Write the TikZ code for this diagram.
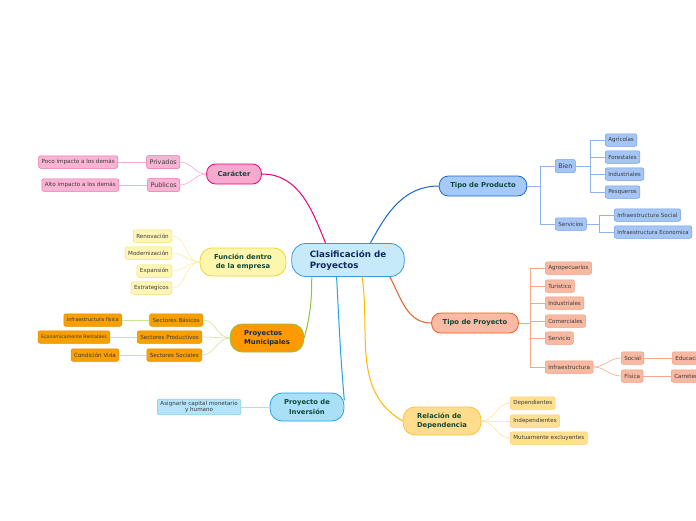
\documentclass[tikz,border=0pt]{standalone}
\usepackage{fontspec}
\setmainfont{DejaVu Sans}
\usepackage{xcolor}
\usepackage{tikz}
\usetikzlibrary{positioning}

\definecolor{cRaiz}{HTML}{C7EAFB}
\definecolor{cRaizB}{HTML}{3B9BD9}
\definecolor{cTexto}{HTML}{12285A}
\definecolor{cVerde}{HTML}{0E4A3A}
\definecolor{cGris}{HTML}{3A3A3A}
\definecolor{cRosa}{HTML}{F9A8CE}
\definecolor{cRosaB}{HTML}{E5007D}
\definecolor{cRosaH}{HTML}{F9B3D3}
\definecolor{cRosaHB}{HTML}{EE6CA9}
\definecolor{cAmar}{HTML}{FFF6AE}
\definecolor{cAmarB}{HTML}{EBD52F}
\definecolor{cAmarH}{HTML}{FFF6B5}
\definecolor{cAmarHB}{HTML}{F2E066}
\definecolor{cAmarL}{HTML}{F8EEA0}
\definecolor{cNar}{HTML}{FF9900}
\definecolor{cNarB}{HTML}{8CC63E}
\definecolor{cNarH}{HTML}{F7A000}
\definecolor{cNarHB}{HTML}{E38B00}
\definecolor{cNarL}{HTML}{C9E39A}
\definecolor{cCel}{HTML}{A9E0F8}
\definecolor{cCelB}{HTML}{1FA3E3}
\definecolor{cCelH}{HTML}{B4E4F9}
\definecolor{cCelHB}{HTML}{78C8EE}
\definecolor{cAzul}{HTML}{A5C9F8}
\definecolor{cAzulB}{HTML}{1766D1}
\definecolor{cAzulH}{HTML}{A5C6F5}
\definecolor{cAzulHB}{HTML}{6E9EE6}
\definecolor{cAzulL}{HTML}{8FB4EE}
\definecolor{cSal}{HTML}{F9BBA3}
\definecolor{cSalB}{HTML}{F25A26}
\definecolor{cSalH}{HTML}{F8B9A2}
\definecolor{cSalHB}{HTML}{F49B7E}
\definecolor{cSalL}{HTML}{F8A68A}
\definecolor{cOro}{HTML}{FFDD8C}
\definecolor{cOroB}{HTML}{F8C23A}
\definecolor{cOroE}{HTML}{FFB800}
\definecolor{cOroH}{HTML}{FFDF90}
\definecolor{cOroHB}{HTML}{F9D16A}
\definecolor{cOroL}{HTML}{FCE2A0}

\tikzset{
  raiz/.style={draw=cRaizB, fill=cRaiz, line width=0.8pt, rounded corners=14pt,
    inner xsep=18pt, inner ysep=5pt, minimum height=33pt, align=left, text=cTexto,
    font=\bfseries\fontsize{8.7}{11}\selectfont},
  rama/.style 2 args={fill=#1, draw=#2, line width=0.8pt, rounded corners=9pt,
    inner xsep=11pt, inner ysep=2pt, minimum height=20pt, text=cVerde,
    font=\bfseries\fontsize{6.8}{9.5}\selectfont},
  doble/.style={minimum height=28pt, rounded corners=12pt, inner xsep=14pt},
  media/.style 2 args={fill=#1, draw=#2, line width=0.5pt, rounded corners=2pt,
    inner xsep=3pt, inner ysep=0pt, minimum height=13pt, text=cGris,
    font=\fontsize{6.4}{7}\selectfont},
  hoja/.style 2 args={fill=#1, draw=#2, line width=0.5pt, rounded corners=2pt,
    inner xsep=3pt, inner ysep=0pt, minimum height=12.5pt, text=cGris,
    font=\fontsize{5.6}{6.5}\selectfont},
  chica/.style={font=\fontsize{5}{6.5}\selectfont},
  tronco/.style={line width=1pt},
  enlace/.style={line width=0.6pt},
}

\begin{document}
\begin{tikzpicture}[x=1pt,y=-1pt]
\useasboundingbox (0,0) rectangle (696,520);

% centro
\node[raiz] (cl) at (348,260) {Clasificación de\\Proyectos};

% ramas principales
\node[rama={cRosa}{cRosaB}] (car) at (234,174) {Carácter};
\node[rama={cAmar}{cAmarB}, doble, align=center] (fun) at (243,262) {Función dentro\\de la empresa};
\node[rama={cNar}{cNarB}, doble, align=left, text=cTexto] (pm) at (267,338) {Proyectos\\Municipales};
\node[rama={cCel}{cCelB}, doble, align=center] (inv) at (307,407) {Proyecto de\\Inversión};
\node[rama={cAzul}{cAzulB}] (tpd) at (483,186) {Tipo de Producto};
\node[rama={cSal}{cSalB}] (tpy) at (475,323) {Tipo de Proyecto};
\node[rama={cOro}{cOroB}, doble, align=left] (rel) at (442,421) {Relación de\\Dependencia};

\draw[tronco, cRosaB] (cl.143) to[out=112,in=0] (car.east);
\draw[tronco, cAzulB] (cl.37) to[out=62,in=180] (tpd.west);
\draw[tronco, cSalB] (cl.-22) to[out=-62,in=180] (tpy.west);
\draw[tronco, cOroE] (cl.-50) to[out=-82,in=150] (rel.west);
\draw[tronco, cCelB] (cl.-124) to[out=-87,in=95] (inv.10);
\draw[tronco, cNarB] (cl.-155) to[out=-90,in=75] (pm.east);

% Caracter
\node[media={cRosaH}{cRosaHB}, anchor=east] (priv) at (180,162) {Privados};
\node[media={cRosaH}{cRosaHB}, anchor=east] (pub) at (180,185) {Publicos};
\node[hoja={cRosaH}{cRosaHB}, anchor=east] (poco) at (118,162) {Poco impacto a los demás};
\node[hoja={cRosaH}{cRosaHB}, anchor=east] (alto) at (119,185) {Alto impacto a los demás};
\draw[enlace, cRosa] (car.west) to[out=180,in=0] (priv.east);
\draw[enlace, cRosa] (car.west) to[out=180,in=0] (pub.east);
\draw[enlace, cRosa] (priv.west) -- (poco.east);
\draw[enlace, cRosa] (pub.west) -- (alto.east);

% Funcion dentro de la empresa
\node[hoja={cAmarH}{cAmarHB}, anchor=east] (ren) at (172,236) {Renovación};
\node[hoja={cAmarH}{cAmarHB}, anchor=east] (mod) at (172,253) {Modernización};
\node[hoja={cAmarH}{cAmarHB}, anchor=east] (exp) at (172,271) {Expansión};
\node[hoja={cAmarH}{cAmarHB}, anchor=east] (est) at (172,288) {Estrategicos};
\foreach \h in {ren,mod,exp,est}
  \draw[enlace, cAmarL] (fun.west) to[out=180,in=0] (\h.east);

% Proyectos Municipales
\node[hoja={cNarH}{cNarHB}, anchor=east] (sb) at (203,320) {Sectores Básicos};
\node[hoja={cNarH}{cNarHB}, anchor=east] (sp) at (202,337) {Sectores Productivos};
\node[hoja={cNarH}{cNarHB}, anchor=east] (ss) at (202,355) {Sectores Sociales};
\node[hoja={cNarH}{cNarHB}, anchor=east, chica] (infis) at (122,320) {Infraestructura física};
\node[hoja={cNarH}{cNarHB}, anchor=east, font=\fontsize{4.7}{6}\selectfont] (eco) at (110,337) {Economicamente Rentables};
\node[hoja={cNarH}{cNarHB}, anchor=east] (cond) at (119,355) {Condición Vida};
\foreach \h in {sb,sp,ss}
  \draw[enlace, cNarL] (pm.west) to[out=180,in=0] (\h.east);
\draw[enlace, cNarL] (sb.west) -- (infis.east);
\draw[enlace, cNarL] (sp.west) -- (eco.east);
\draw[enlace, cNarL] (ss.west) -- (cond.east);

% Proyecto de Inversion
\node[hoja={cCelH}{cCelHB}, anchor=east, align=center, inner ysep=2pt] (asig) at (241,407) {Asignarle capital monetario\\y humano};
\draw[enlace, cCelHB!60] (inv.west) -- (asig.east);

% Tipo de Producto
\node[media={cAzulH}{cAzulHB}, anchor=west] (bien) at (555,166) {Bien};
\node[hoja={cAzulH}{cAzulHB}, anchor=west] (serv) at (555,224) {Servicios};
\node[hoja={cAzulH}{cAzulHB}, anchor=west] (agr) at (605,140) {Agrícolas};
\node[hoja={cAzulH}{cAzulHB}, anchor=west] (fore) at (605,157) {Forestales};
\node[hoja={cAzulH}{cAzulHB}, anchor=west] (indb) at (605,174) {Industriales};
\node[hoja={cAzulH}{cAzulHB}, anchor=west] (pes) at (605,192) {Pesqueros};
\node[hoja={cAzulH}{cAzulHB}, anchor=west] (isoc) at (614,215) {Infraestructura Social};
\node[hoja={cAzulH}{cAzulHB}, anchor=west, font=\fontsize{5.4}{6.5}\selectfont] (ieco) at (614,232) {Infraestructura Economica};
\coordinate (tpdj) at (540,186);
\coordinate (bienj) at (590,166);
\coordinate (servj) at (599,224);
\draw[enlace, cAzulL] (tpd.east) -- (tpdj) |- (bien.west);
\draw[enlace, cAzulL] (tpdj) |- (serv.west);
\foreach \h in {agr,fore,indb,pes}
  \draw[enlace, cAzulL] (bien.east) -- (bienj) |- (\h.west);
\foreach \h in {isoc,ieco}
  \draw[enlace, cAzulL] (serv.east) -- (servj) |- (\h.west);

% Tipo de Proyecto
\node[hoja={cSalH}{cSalHB}, anchor=west] (agro) at (545,268) {Agropecuarios};
\node[hoja={cSalH}{cSalHB}, anchor=west] (tur) at (545,286) {Turistico};
\node[hoja={cSalH}{cSalHB}, anchor=west] (indu) at (545,303) {Industriales};
\node[hoja={cSalH}{cSalHB}, anchor=west] (com) at (545,321) {Comerciales};
\node[hoja={cSalH}{cSalHB}, anchor=west] (ser) at (545,338) {Servicio};
\node[hoja={cSalH}{cSalHB}, anchor=west] (infra) at (545,367) {Infraestructura};
\node[hoja={cSalH}{cSalHB}, anchor=west] (soc) at (621,358) {Social};
\node[hoja={cSalH}{cSalHB}, anchor=west] (fis) at (621,376) {Física};
\node[hoja={cSalH}{cSalHB}, anchor=west] (edu) at (672,358) {Educación};
\node[hoja={cSalH}{cSalHB}, anchor=west] (carr) at (671,376) {Carreteras};
\coordinate (tpyj) at (530,323);
\draw[enlace, cSalL] (tpy.east) -- (tpyj);
\foreach \h in {agro,tur,indu,com,ser,infra}
  \draw[enlace, cSalL] (tpyj) |- (\h.west);
\draw[enlace, cSalL] (infra.east) to[out=0,in=180] (soc.west);
\draw[enlace, cSalL] (infra.east) to[out=0,in=180] (fis.west);
\draw[enlace, cSalL] (soc.east) -- (edu.west);
\draw[enlace, cSalL] (fis.east) -- (carr.west);

% Relacion de Dependencia
\node[hoja={cOroH}{cOroHB}, anchor=west] (dep) at (510,403) {Dependientes};
\node[hoja={cOroH}{cOroHB}, anchor=west] (indep) at (510,421) {Independientes};
\node[hoja={cOroH}{cOroHB}, anchor=west] (mut) at (510,438) {Mutuamente excluyentes};
\foreach \h in {dep,indep,mut}
  \draw[enlace, cOroL] (rel.east) to[out=0,in=180] (\h.west);
\end{tikzpicture}
\end{document}
